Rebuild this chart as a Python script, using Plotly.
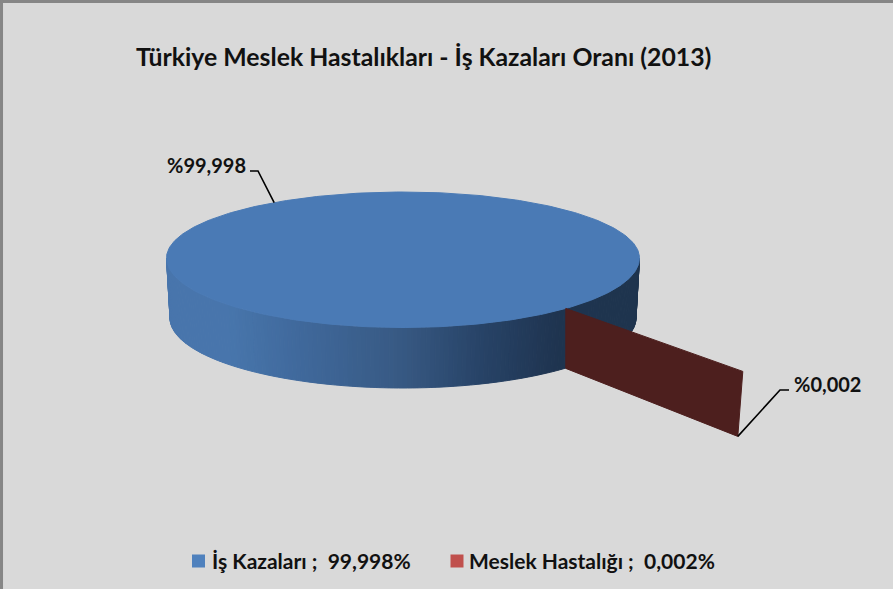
import numpy as np
import plotly.graph_objects as go

categories = ["İş Kazaları", "Meslek Hastalığı"]
values = [99.998, 0.002]
legend_labels = ["İş Kazaları ;\u00a0\u00a099,998%", "Meslek Hastalığı ;\u00a0\u00a00,002%"]
data_labels = ["%99,998", "%0,002"]
title_text = "Türkiye Meslek Hastalıkları - İş Kazaları Oranı (2013)"
top_color = "#4a7ab5"
legend_colors = ["#4f81bd", "#c0504d"]
wall_color = "#4d1f1e"
side_stops = [(170, (72, 117, 172)), (230, (72, 118, 172)), (300, (64, 105, 156)), (400, (56, 90, 132)),
              (480, (40, 68, 104)), (560, (31, 52, 80)), (640, (30, 52, 78))]

# projection of the 3D pie onto the page
CX, CY, RX, RY_BACK, RY_FRONT = 403, 258, 236.5, 66, 69.5
BCY, BRX, BRY = 318, 233, 70
START = np.deg2rad(46.5)


def rim(t):
    ry = np.where(np.sin(t) > 0, RY_FRONT, RY_BACK)
    return CX + RX * np.cos(t), CY + ry * np.sin(t)


def base(t):
    return CX + BRX * np.cos(t), BCY + BRY * np.sin(t)


def side_colour(x):
    xs = [s[0] for s in side_stops]
    c = [np.interp(x, xs, [s[1][i] for s in side_stops]) for i in range(3)]
    return "rgb(%d,%d,%d)" % tuple(c)


fig = go.Figure()

# side of the big slice
edges = np.linspace(np.pi, 0, 161)
for a, b in zip(edges[:-1], edges[1:]):
    tx0, ty0 = rim(a)
    tx1, ty1 = rim(b)
    bx0, by0 = base(a)
    bx1, by1 = base(b)
    col = side_colour((tx0 + tx1) / 2)
    fig.add_trace(go.Scatter(x=[tx0, tx1, bx1, bx0, tx0], y=[ty0, ty1, by1, by0, ty0], mode="lines",
                             fill="toself", fillcolor=col, line=dict(color=col, width=1),
                             showlegend=False, hoverinfo="skip"))

# top of the big slice: sweep comes from its share of the total
sweep = 2 * np.pi * values[0] / sum(values)
t = np.linspace(START, START + sweep, 361)
tx, ty = rim(t)
fig.add_trace(go.Scatter(x=tx, y=ty, mode="lines", fill="toself", fillcolor=top_color,
                         line=dict(color=top_color, width=1), showlegend=False, hoverinfo="skip"))

# exploded thin slice, seen as a wall
ax, ay = rim(np.array(START))
bax, bay = ax, ay + 60
ox, oy = ax + 177, ay + 63
obx, oby = ox - 5, oy + 65
fig.add_trace(go.Scatter(x=[ax, ox, obx, bax, ax], y=[ay, oy, oby, bay, ay], mode="lines", fill="toself",
                         fillcolor=wall_color, line=dict(color=wall_color, width=1),
                         showlegend=False, hoverinfo="skip"))

# leader lines
lx, ly = rim(np.array(START + sweep / 2 + np.deg2rad(10.5)))
fig.add_trace(go.Scatter(x=[250, 258, lx], y=[171, 171, ly], mode="lines", line=dict(color="black", width=1.6),
                         showlegend=False, hoverinfo="skip"))
fig.add_trace(go.Scatter(x=[obx, 780, 789], y=[oby, 390, 390], mode="lines", line=dict(color="black", width=1.6),
                         showlegend=False, hoverinfo="skip"))

# legend swatches
fig.add_trace(go.Scatter(x=[198.5, 457], y=[561, 561], mode="markers",
                         marker=dict(symbol="square", size=13, color=legend_colors, line=dict(width=0)),
                         showlegend=False, customdata=categories, hovertemplate="%{customdata}<extra></extra>"))

fig.update_layout(
    width=893, height=589, margin=dict(l=0, r=0, t=0, b=0), showlegend=False,
    paper_bgcolor="#d9d9d9", plot_bgcolor="#d9d9d9",
    xaxis=dict(range=[0, 893], visible=False, fixedrange=True),
    yaxis=dict(range=[589, 0], visible=False, fixedrange=True),
    font=dict(family="Lato", color="#111111"),
    shapes=[
        dict(type="line", xref="paper", yref="paper", x0=0, x1=1, y0=0.9975, y1=0.9975, line=dict(color="#868686", width=3)),
        dict(type="line", xref="paper", yref="paper", x0=0.0017, x1=0.0017, y0=0, y1=1, line=dict(color="#868686", width=3)),
    ],
    annotations=[
        dict(text="<b>" + title_text + "</b>", x=423, y=56.5, xref="x", yref="y", showarrow=False, font=dict(size=24.8)),
        dict(text="<b>" + data_labels[0] + "</b>", x=206, y=165, xref="x", yref="y", showarrow=False, font=dict(size=20)),
        dict(text="<b>" + data_labels[1] + "</b>", x=827, y=384, xref="x", yref="y", showarrow=False, font=dict(size=20)),
        dict(text="<b>" + legend_labels[0] + "</b>", x=210, y=560, xref="x", yref="y", xanchor="left", showarrow=False, font=dict(size=21)),
        dict(text="<b>" + legend_labels[1] + "</b>", x=467, y=560, xref="x", yref="y", xanchor="left", showarrow=False, font=dict(size=21)),
    ],
)
fig.write_html("out.html", config=dict(displayModeBar=False),
               post_script="document.body.style.margin='0';document.documentElement.style.overflow='hidden';")
